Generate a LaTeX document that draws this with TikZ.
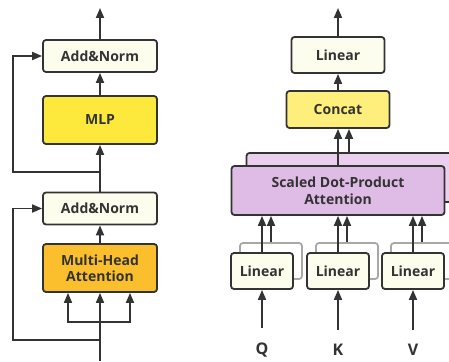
\documentclass[tikz,border=0pt]{standalone}
\usepackage{fontspec}
\setmainfont{Open Sans}
\usetikzlibrary{positioning,arrows.meta}
\definecolor{lineclr}{HTML}{333333}
\definecolor{normclr}{HTML}{FDFDEE}
\definecolor{mlpclr}{HTML}{FDE83C}
\definecolor{mhaclr}{HTML}{FBBE2D}
\definecolor{catclr}{HTML}{FEEF7C}
\definecolor{sdpaclr}{HTML}{DFBCE6}
\definecolor{sdpabkclr}{HTML}{EACFEF}
\definecolor{ghostclr}{HTML}{A8A8A8}
\tikzset{ %
  ,>={Triangle[length=10pt,width=8pt]}
  ,every node/.style={font=\fontsize{14}{16.5}\selectfont\bfseries, text=lineclr}
  ,box/.style={draw=lineclr, line width=1.8pt, rounded corners=3pt, inner sep=0, align=center}
  ,norm/.style={box, fill=normclr, minimum width=114pt, minimum height=32pt}
  ,block/.style={box, minimum width=114pt, minimum height=48pt}
  ,linbox/.style={box, fill=normclr, minimum width=62pt, minimum height=36pt}
  ,ghost/.style={draw=ghostclr, line width=1.8pt, rounded corners=3pt, minimum width=62pt, minimum height=36pt}
  ,inlabel/.style={font=\fontsize{16}{18}\selectfont\bfseries}
  ,link/.style={->, draw=lineclr, line width=1.8pt}
}

\begin{document}
\begin{tikzpicture}[x=1pt, y=-1pt]
  \useasboundingbox (0,0) rectangle (449,361);
  \clip (0,0) rectangle (449,361);
  % encoder block
  \node[norm] (an1) at (100,56) {Add\&Norm};
  \node[block, fill=mlpclr] (mlp) at (100,120) {MLP};
  \node[norm] (an2) at (100,208.5) {Add\&Norm};
  \node[block, fill=mhaclr] (mha) at (100,268) {Multi-Head\\Attention};
  \coordinate (out1) at (100,8);
  \coordinate (res1) at (100,172);
  \coordinate (split) at (100,322);
  \coordinate (res2) at (100,340);
  \coordinate (in1) at (100,361);
  \draw[link] (an1) -- (out1);
  \draw[link] (mlp) -- (an1);
  \draw[link] (an2) -- (mlp);
  \draw[link] (mha) -- (an2);
  \draw[link] (in1) -- (mha);
  \draw[link] (split) -| ([xshift=-32pt]mha.south);
  \draw[link] (split) -| ([xshift=30pt]mha.south);
  \draw[link] (res1) -- ++(-87,0) |- (an1);
  \draw[link] (res2) -- ++(-87,0) |- (an2);
  % multi-head attention
  \node[norm, minimum width=93pt, minimum height=36pt] (lin) at (338,55) {Linear};
  \node[box, fill=catclr, minimum width=103pt, minimum height=37pt] (cat) at (338,109.5) {Concat};
  \node[box, fill=sdpabkclr, minimum width=213pt, minimum height=49pt] (sdpab) at (353,177.5) {};
  \node[box, fill=sdpaclr, minimum width=213pt, minimum height=49pt] (sdpa) at (338,190.5) {Scaled Dot-Product\\Attention};
  \coordinate (out2) at (338,8);
  \draw[link] (lin) -- (out2);
  \draw[link] (cat) -- (lin);
  \draw[link] (sdpa) -- (cat);
  \draw[link] ([xshift=11pt]cat.south |- sdpab.north) -- ([xshift=11pt]cat.south);
  \foreach \n/\x/\lab in {q/262/Q, k/338/K, v/413/V} {
    \node[ghost] (bk\n) at (\x+9,261) {};
    \node[linbox] (lin\n) at (\x,271) {Linear};
    \node[inlabel] (\n) at (\x,350) {\lab};
    \draw[link] (bk\n) -- (bk\n |- sdpa.south);
    \draw[link] (lin\n) -- (lin\n |- sdpa.south);
    \draw[link, shorten <=11pt] (\n) -- (lin\n);
  }
\end{tikzpicture}
\end{document}
